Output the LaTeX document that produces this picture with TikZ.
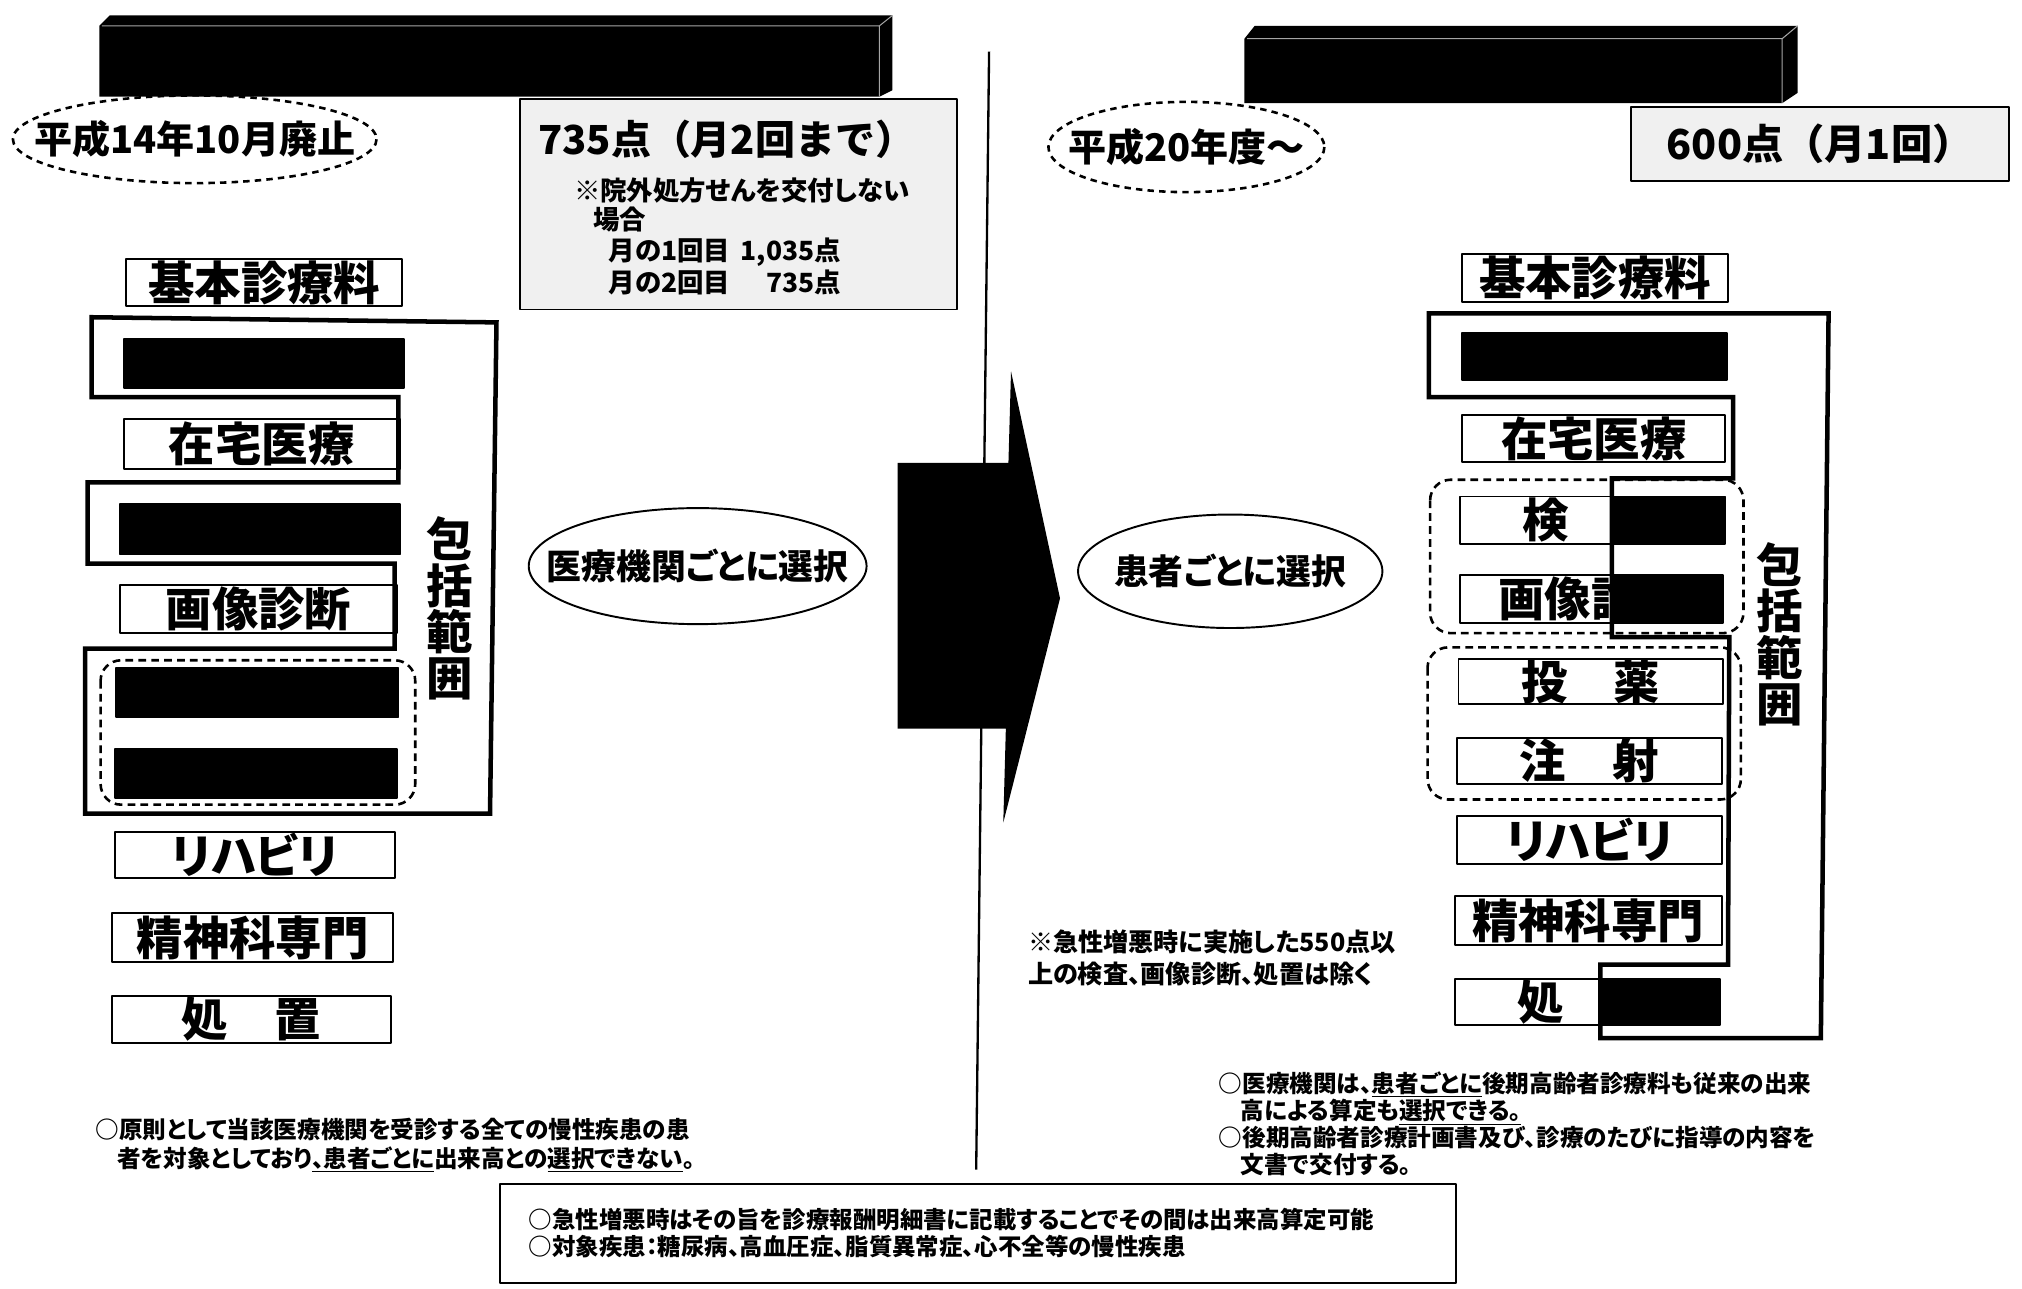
\documentclass[tikz,border=0pt]{standalone}
\usepackage{fontspec}
\setmainfont{Noto Sans CJK JP}[RawFeature=+palt]
\usetikzlibrary{positioning}
\newcommand\setpx[2]{\fontsize{#1}{#2}\selectfont\bfseries}
\newcommand\fullwidth{\addfontfeatures{RawFeature=-palt}}
% box from x1 to x2, y1 to y2 (y downwards)
\newcommand\itembox[7][item]{%
  \node[#1, minimum width={#4-#3}, minimum height={#6-#5}] (#2) at ({(#3+#4)/2},{(#5+#6)/2}) {#7};}
\tikzset{
  item/.style={draw, line width=1.5pt, fill=white, inner sep=0pt, font=\setpx{36}{36}},
  masked/.style={item, fill=black},
  zone/.style={draw, line width=3.5pt, line join=miter},
  group/.style={draw, line width=2pt, dash pattern=on 6pt off 4pt, rounded corners=16pt},
  period/.style={line width=2pt, dash pattern=on 5pt off 4pt},
  choice/.style={line width=1.5pt},
  label/.style={inner sep=0pt, font=\setpx{29.5}{30}},
  price/.style={draw, line width=1.5pt, fill=black!6, inner sep=0pt},
  note/.style={inner sep=0pt, align=left, font=\setpx{18.3}{22}},
}
\begin{document}
\begin{tikzpicture}[x=1pt, y=-1pt, line join=round]
\fill[white] (0,0) rectangle (1568,999);
\useasboundingbox (0,0) rectangle (1568,999);

% title bars
\fill (77,20) -- (85,12) -- (692,12) -- (692,70) -- (682,75) -- (77,75) -- cycle;
\draw[gray!70, line width=0.8pt] (79,20) -- (682,20) -- (692,12) (682,20) -- (682,75);
\fill (965,30) -- (973,20) -- (1394,20) -- (1394,72) -- (1382,80) -- (965,80) -- cycle;
\draw[gray!70, line width=0.8pt] (967,30) -- (1382,30) -- (1394,20) (1382,30) -- (1382,80);

% divider and arrow
\draw[line width=1.8pt] (767,40) -- (757,907);
\fill (696,359) -- (782,359) -- (784,288) -- (822,464) -- (778,638) -- (780,565) -- (696,565) -- cycle;

% periods and prices
\node[label] (heisei14) at (151,108) {平成14年10月廃止};
\draw[period] (heisei14.center) ellipse [x radius=141, y radius=34];
\node[label] (heisei20) at (920,114) {平成20年度〜};
\draw[period] (heisei20.center) ellipse [x radius=107, y radius=35];
\node[price, minimum width=339, minimum height=163] (price735) at (572.5,158.5) {};
\node[anchor=west, inner sep=0pt, font=\setpx{31}{31}\fullwidth] (p735) at (417,108) {735点（月2回まで）};
\node[anchor=west, inner sep=0pt, font=\setpx{20.5}{21}] (noRx) at (445,148) {※院外処方せんを交付しない};
\node[anchor=west, inner sep=0pt, font=\setpx{20.5}{21}] (rxCase) at (460,170) {場合};
\node[anchor=north west, inner sep=0pt, font=\setpx{20.5}{24}] (rxVisits) at (472,184)
  {\begin{tabular}{@{}l@{\hspace{8pt}}r@{}}月の1回目 & 1,035点\\ 月の2回目 & 735点\end{tabular}};
\node[price, minimum width=293, minimum height=57, font=\setpx{32}{32}\fullwidth] (price600) at (1411.5,111.5) {600点（月1回）};

% choice ellipses
\node[label, font=\setpx{27}{27}] (selInst) at (541,439) {医療機関ごとに選択};
\draw[choice] (selInst.center) ellipse [x radius=131, y radius=45];
\node[label, font=\setpx{27}{27}] (selPat) at (954,443) {患者ごとに選択};
\draw[choice] (selPat.center) ellipse [x radius=118, y radius=44];

% dashed groups
\draw[group] (78,512) rectangle (322,624);
\draw[group] (1109,372) rectangle (1352,491);
\draw[group] (1107,502) rectangle (1350,620);

% left column
\itembox{kihonL}{98}{312}{201}{237}{基本診療料}
\itembox[masked]{igakuL}{96}{313}{263}{301}{}
\itembox{zaitakuL}{96}{310}{325}{364}{在宅医療}
\itembox[masked]{kensaL}{93}{310}{391}{430}{}
\itembox{gazoL}{93}{308}{454}{491}{画像診断}
\itembox[masked]{toyakuL}{90}{309}{518}{556}{}
\itembox[masked]{chushaL}{89}{308}{581}{619}{}
\itembox{rihaL}{89}{306}{645}{681}{リハビリ}
\itembox{seishinL}{87}{305}{708}{746}{精神科専門}
\itembox{shochiL}{87}{303}{772}{809}{処　置}

% right column
\itembox{kihonR}{1134}{1340}{197}{234}{基本診療料}
\itembox[masked]{igakuR}{1134}{1339}{258}{295}{}
\itembox{zaitakuR}{1134}{1338}{322}{358}{在宅医療}
\itembox{kensaR}{1132}{1338}{385}{422}{検　査}
\itembox{gazoR}{1132}{1336}{446}{483}{画像診断}
\itembox{toyakuR}{1131}{1336}{511}{546}{投　薬}
\itembox{chushaR}{1130}{1335}{572}{608}{注　射}
\itembox{rihaR}{1130}{1335}{633}{670}{リハビリ}
\itembox{seishinR}{1128}{1335}{695}{733}{精神科専門}
\itembox{shochiR}{1128}{1334}{759}{795}{処　置}
\fill (1250,385) rectangle (1338,422) (1250,446) rectangle (1336,483) (1242,759) rectangle (1334,795);

% bundled ranges
\draw[zone] (71,246) -- (385,250) -- (380,631) -- (66,631) -- (66,503) -- (306,503) -- (306,437)
  -- (68,437) -- (68,374) -- (309,374) -- (309,308) -- (71,308) -- cycle;
\draw[zone] (1108,243) -- (1418,243) -- (1412,805) -- (1241,805) -- (1241,748) -- (1340,748)
  -- (1341,494) -- (1250,494) -- (1250,371) -- (1344,371) -- (1344,308) -- (1108,308) -- cycle;
\node[align=center, inner sep=0pt, font=\setpx{36}{36}] (rangeL) at (349,472) {包\\括\\範\\囲};
\node[align=center, inner sep=0pt, font=\setpx{36}{36}] (rangeR) at (1380,492) {包\\括\\範\\囲};

% notes
\node[note, font=\setpx{19.5}{25}, anchor=north west] (exclNote) at (797,721)
  {※急性増悪時に実施した550点以\\上の検査、画像診断、処置は除く};
\node[note, anchor=north west] (noteL) at (74,867)
  {○原則として当該医療機関を受診する全ての慢性疾患の患\\\hspace*{17pt}者を対象としており\underline{、患者ごとに}出来高との\underline{選択できない}。};
\node[note, font=\setpx{18.3}{21}, anchor=north west] (noteR) at (945,831)
  {○医療機関は、\underline{患者ごとに}後期高齢者診療料も従来の出来\\\hspace*{17pt}高による算定も\underline{選択できる。}\\○後期高齢者診療計画書及び、診療のたびに指導の内容を\\\hspace*{17pt}文書で交付する。};
\node[draw, line width=1.5pt, fill=white, inner xsep=22pt, inner ysep=0pt, text width=697pt,
  minimum height=77pt, align=left, font=\setpx{18.2}{21}] (noteB) at (758.5,956.5)
  {○急性増悪時はその旨を診療報酬明細書に記載することでその間は出来高算定可能\\○対象疾患：糖尿病、高血圧症、脂質異常症、心不全等の慢性疾患};
\end{tikzpicture}
\end{document}
